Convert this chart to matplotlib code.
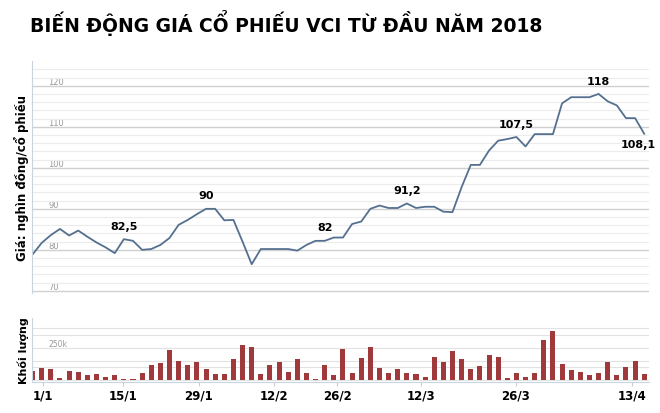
import numpy as np
import matplotlib.pyplot as plt

price = [78.9, 81.7, 83.6, 85.1, 83.5, 84.7, 83.2, 81.8, 80.6, 79.2, 82.6, 82.2, 80, 80.2,
         81.2, 82.9, 86.1, 87.3, 88.7, 90, 90, 87.2, 87.3, 82.0, 76.5, 80.2, 80.2, 80.2, 80.2,
         79.8, 81.2, 82.2, 82.2, 83, 83, 86.3, 86.9, 90, 90.8, 90.2, 90.2, 91.3, 90.2, 90.5,
         90.5, 89.3, 89.2, 95.3, 100.7, 100.7, 104.2, 106.6, 107, 107.5, 105.2, 108.2, 108.2,
         108.2, 115.7, 117.2, 117.2, 117.2, 118, 116.2, 115.2, 112.1, 112.1, 108.3]
volume = [67, 92, 87, 17, 72, 60, 37, 47, 25, 37, 5, 5, 57, 117, 135, 235, 145, 112, 140, 85,
          47, 47, 165, 267, 255, 47, 115, 140, 62, 165, 52, 5, 115, 37, 240, 57, 170, 257, 92,
          52, 87, 57, 47, 22, 180, 140, 225, 160, 85, 105, 195, 175, 17, 52, 27, 52, 307, 380,
          120, 77, 62, 37, 52, 140, 42, 100, 150, 45]  # nghìn cp
date_labels = ['1/1', '15/1', '29/1', '12/2', '26/2', '12/3', '26/3', '13/4']
date_pos = [1.1, 9.9, 18.2, 26.4, 33.4, 42.6, 52.9, 65.7]
notes = {10: '82,5', 19: '90', 32: '82', 41: '91,2', 53: '107,5', 62: '118', 67: '108,1'}

x = np.arange(len(price))
fig = plt.figure(figsize=(6.6, 4.14), dpi=100)
fig.text(0.045, 0.945, 'BIẾN ĐỘNG GIÁ CỔ PHIẾU VCI TỪ ĐẦU NĂM 2018', fontsize=13.5,
         fontweight='bold', va='center')

ax = fig.add_axes([0.048, 0.29, 0.935, 0.56])
ax.plot(x, price, color='#55708f', lw=1.3)
ax.set_xlim(-0.1, 67.5)
ax.set_ylim(69.5, 126)
ax.set_yticks(range(70, 121, 10))
ax.set_yticks(np.arange(70, 126, 2), minor=True)
ax.tick_params(axis='y', which='both', length=0, labelsize=6, colors='#999999', pad=-12)
for lbl in ax.get_yticklabels():
    lbl.set_horizontalalignment('left')
    lbl.set_verticalalignment('bottom')
ax.set_xticks([])
ax.grid(axis='y', which='major', color='#d0d0d0', lw=1)
ax.grid(axis='y', which='minor', color='#ececec', lw=0.8)
for s in ['top', 'right', 'bottom']:
    ax.spines[s].set_visible(False)
ax.spines['left'].set_color('#c8d4e0')
for i, t in notes.items():
    if i == 67:
        ax.annotate(t, (x[i], price[i]), xytext=(8, -4), textcoords='offset points',
                    ha='right', va='top', fontsize=8, fontweight='bold')
    else:
        ax.annotate(t, (x[i], price[i]), xytext=(0, 6), textcoords='offset points',
                    ha='center', va='bottom', fontsize=8, fontweight='bold')
ax.set_ylabel('Giá: nghìn đồng/cổ phiếu', fontsize=8.5, fontweight='bold', labelpad=2)

bx = fig.add_axes([0.048, 0.075, 0.935, 0.155])
bx.bar(x, volume, width=0.55, color='#a0393b')
bx.set_xlim(-0.1, 67.5)
bx.set_ylim(-15, 480)
bx.set_yticks([0, 250])
bx.set_yticklabels(['0', '250k'])
bx.set_yticks([100, 150, 350, 400], minor=True)
bx.tick_params(axis='y', which='both', length=0, labelsize=5.5, colors='#999999', pad=-12)
for lbl in bx.get_yticklabels():
    lbl.set_horizontalalignment('left')
    lbl.set_verticalalignment('bottom')
bx.grid(axis='y', which='both', color='#e2e2e2', lw=0.8)
bx.set_axisbelow(True)
bx.set_xticks(date_pos)
bx.set_xticklabels(date_labels, fontsize=8.5, fontweight='bold')
bx.tick_params(axis='x', length=3, color='#cccccc', pad=2)
for s in ['top', 'right']:
    bx.spines[s].set_visible(False)
bx.spines['left'].set_color('#c8d4e0')
bx.spines['bottom'].set_color('#c8d4e0')
bx.set_ylabel('Khối lượng', fontsize=8, fontweight='bold', labelpad=2)

fig.savefig('out.png', dpi=100)
